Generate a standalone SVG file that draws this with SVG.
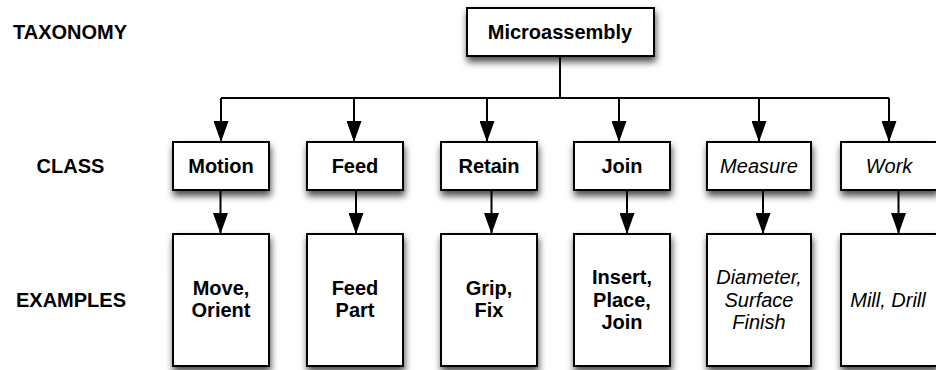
<svg xmlns="http://www.w3.org/2000/svg" width="936" height="370" viewBox="0 0 936 370">
  <defs>
    <filter id="shadow" x="-20%" y="-20%" width="140%" height="160%">
      <feDropShadow dx="1" dy="5" stdDeviation="3.5" flood-color="#000" flood-opacity="0.7"/>
    </filter>
    <marker id="arrow" markerUnits="userSpaceOnUse" markerWidth="21" markerHeight="15" refX="21" refY="7.5" orient="auto">
      <path d="M0,0 L21,7.5 L0,15 Z" fill="#000"/>
    </marker>
  </defs>
  <style>
    .box { fill: #fff; stroke: #000; stroke-width: 2; filter: url(#shadow); }
    .edge { fill: none; stroke: #000; stroke-width: 2; }
    .arr { marker-end: url(#arrow); }
    text { font-family: "Liberation Sans", Arial, Helvetica, sans-serif; font-size: 20px; fill: #000; text-anchor: middle; }
    .b { font-weight: bold; }
    .i { font-style: italic; }
    .bg { fill: #fff; }
  </style>

  <rect width="936" height="370" fill="#fff"/>

  <!-- connectors -->
  <g id="connectors">
    <path class="edge" d="M560,56 V98 M221,98 H889"/>
    <path class="edge arr" d="M221,98 V142"/>
    <path class="edge arr" d="M354,98 V142"/>
    <path class="edge arr" d="M487,98 V142"/>
    <path class="edge arr" d="M619,98 V142"/>
    <path class="edge arr" d="M759,98 V142"/>
    <path class="edge arr" d="M889,98 V142"/>
    <path class="edge arr" d="M220.5,190 V234"/>
    <path class="edge arr" d="M356,190 V234"/>
    <path class="edge arr" d="M491.5,190 V234"/>
    <path class="edge arr" d="M627,190 V234"/>
    <path class="edge arr" d="M763,190 V234"/>
    <path class="edge arr" d="M898.5,190 V234"/>
  </g>

  <!-- root -->
  <g id="microassembly">
    <rect class="box" x="467" y="8" width="187" height="48"/>
    <text class="b" x="560" y="38.5">Microassembly</text>
  </g>

  <!-- class row -->
  <g id="motion">
    <rect class="box" x="173" y="142" width="96" height="48"/>
    <text class="b" x="221" y="172.5">Motion</text>
  </g>
  <g id="feed">
    <rect class="box" x="307" y="142" width="96" height="48"/>
    <text class="b" x="355" y="172.5">Feed</text>
  </g>
  <g id="retain">
    <rect class="box" x="441" y="142" width="96" height="48"/>
    <text class="b" x="489" y="172.5">Retain</text>
  </g>
  <g id="join">
    <rect class="box" x="574" y="142" width="96" height="48"/>
    <text class="b" x="622" y="172.5">Join</text>
  </g>
  <g id="measure">
    <rect class="box" x="707" y="142" width="104" height="48"/>
    <text class="i" x="759" y="172.5">Measure</text>
  </g>
  <g id="work">
    <rect class="box" x="841" y="142" width="96" height="48"/>
    <text class="i" x="889" y="172.5">Work</text>
  </g>

  <!-- examples row -->
  <g id="ex-motion">
    <rect class="box" x="173" y="234" width="96" height="132"/>
    <text class="b" x="221"><tspan x="221" y="295">Move,</tspan><tspan x="221" y="317">Orient</tspan></text>
  </g>
  <g id="ex-feed">
    <rect class="box" x="307" y="234" width="96" height="132"/>
    <text class="b" x="355"><tspan x="355" y="295">Feed</tspan><tspan x="355" y="317">Part</tspan></text>
  </g>
  <g id="ex-retain">
    <rect class="box" x="441" y="234" width="96" height="132"/>
    <text class="b" x="489"><tspan x="489" y="295">Grip,</tspan><tspan x="489" y="317">Fix</tspan></text>
  </g>
  <g id="ex-join">
    <rect class="box" x="574" y="234" width="96" height="132"/>
    <text class="b" x="622"><tspan x="622" y="284">Insert,</tspan><tspan x="622" y="306.5">Place,</tspan><tspan x="622" y="329">Join</tspan></text>
  </g>
  <g id="ex-measure">
    <rect class="box" x="707" y="234" width="104" height="132"/>
    <text class="i" x="759"><tspan x="759" y="284">Diameter,</tspan><tspan x="759" y="306.5">Surface</tspan><tspan x="759" y="329">Finish</tspan></text>
  </g>
  <g id="ex-work">
    <rect class="box" x="841" y="234" width="96" height="132"/>
    <text class="i" x="888" y="307">Mill, Drill</text>
  </g>

  <!-- row labels -->
  <g id="label-taxonomy">
    <text class="b" x="70" y="39">TAXONOMY</text>
  </g>
  <g id="label-class">
    <rect class="bg" x="0" y="146" width="165" height="44"/>
    <text class="b" x="70.5" y="172.5">CLASS</text>
  </g>
  <g id="label-examples">
    <rect class="bg" x="0" y="275" width="165" height="48"/>
    <text class="b" x="71" y="306.5">EXAMPLES</text>
  </g>
</svg>
